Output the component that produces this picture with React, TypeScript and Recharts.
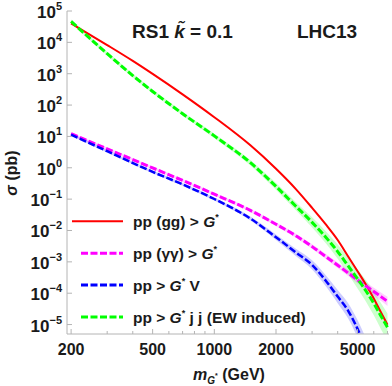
import React from "react";
import { ComposedChart, Line, Area, XAxis, YAxis, Customized } from "recharts";

// masses in GeV, cross sections in pb
const masses = [200, 300, 400, 500, 700, 1000, 1500, 2000, 2500, 3000, 3500, 4000, 4500, 5000, 5500, 6000, 6500, 7000];
const sigmaGG = [4.03e4, 8.2e3, 2.56e3, 986, 220, 41, 5.19, 0.927, 0.209, 0.0527, 0.0156, 4.97e-3, 1.48e-3, 5.0e-4, 1.87e-4, 6.8e-5, 2.48e-5, 9.9e-6];
const sigmaAA = [12.2, 4.0, 1.83, 0.99, 0.395, 0.144, 0.0436, 0.0158, 6.8e-3, 3.06e-3, 1.47e-3, 7.8e-4, 4.4e-4, 2.65e-4, 1.68e-4, 1.13e-4, 7.8e-5, 5.5e-5];
const sigmaV = [11.4, 3.37, 1.42, 0.74, 0.295, 0.101, 0.024, 6.1e-3, 2.0e-3, 8.0e-4, 2.5e-4, 7.8e-5, 2.75e-5, 7.3e-6, 1.7e-6, 4e-7, 8e-8, 1.6e-8];
const sigmaJJ = [4.67e4, 4.34e3, 871, 272, 53, 10.4, 1.45, 0.255, 0.0593, 0.0182, 6.1e-3, 2.12e-3, 7.4e-4, 2.85e-4, 1.18e-4, 4.73e-5, 1.89e-5, 8.1e-6];

// uncertainty band spread (multiplicative, up and down)
const spreadAA = [1.1, 1.1, 1.1, 1.1, 1.1, 1.1, 1.12, 1.14, 1.16, 1.18, 1.2, 1.22, 1.25, 1.28, 1.3, 1.33, 1.36, 1.4];
const spreadV = [1.1, 1.1, 1.1, 1.1, 1.1, 1.12, 1.16, 1.22, 1.3, 1.4, 1.5, 1.62, 1.75, 1.9, 2.1, 2.3, 2.5, 2.7];
const spreadJJ = [1.15, 1.15, 1.15, 1.15, 1.15, 1.18, 1.22, 1.28, 1.35, 1.45, 1.55, 1.7, 1.85, 2.0, 2.2, 2.4, 2.6, 2.8];

const xMajor = [200, 500, 1000, 2000, 5000];
const xMinor = [300, 400, 600, 700, 800, 900, 3000, 4000, 6000, 7000];
const yTicks = [1e-5, 1e-4, 1e-3, 1e-2, 1e-1, 1, 10, 100, 1e3, 1e4, 1e5];

const AXIS = "#b4b4b4";
const INK = "#1a1a1a";
const FONT = "'Liberation Sans', Arial, sans-serif";

const data = masses.map((m, i) => ({
  m,
  gg: sigmaGG[i],
  aa: sigmaAA[i],
  v: sigmaV[i],
  jj: sigmaJJ[i],
  aaBand: [sigmaAA[i] / spreadAA[i], sigmaAA[i] * spreadAA[i]],
  vBand: [sigmaV[i] / spreadV[i], sigmaV[i] * spreadV[i]],
  jjBand: [sigmaJJ[i] / spreadJJ[i], sigmaJJ[i] * spreadJJ[i]],
}));

const xTicks = [...xMajor, ...xMinor].sort((a, b) => a - b);

const XTick = (props: any) => {
  const { x, y, payload } = props;
  const major = xMajor.includes(payload.value);
  return (
    <g>
      <line x1={x} x2={x} y1={y} y2={y - (major ? 5 : 3)} stroke={AXIS} />
      {major && (
        <text x={x} y={y + 21} textAnchor="middle" fontSize={16} fontWeight="bold" fontFamily={FONT} fill={INK}>
          {payload.value}
        </text>
      )}
    </g>
  );
};

const YTick = (props: any) => {
  const { x, y, payload } = props;
  const exp = Math.round(Math.log10(payload.value));
  return (
    <g>
      <line x1={x} x2={x + 5} y1={y} y2={y} stroke={AXIS} />
      <text x={x - 5} y={y + 7} textAnchor="end" fontSize={17} fontWeight="bold" fontFamily={FONT} fill={INK}>
        10
        <tspan dy={-8} fontSize={11}>{exp < 0 ? "\u2212" + Math.abs(exp) : String(exp)}</tspan>
      </text>
    </g>
  );
};

const legendRows = [
  { color: "#ff0000", dash: undefined, w: 2, label: ["pp (gg) > ", "G", "*", ""] },
  { color: "#ff00ff", dash: "7 2.5", w: 3, label: ["pp (\u03b3\u03b3) > ", "G", "*", ""] },
  { color: "#0000ff", dash: "7 2.5", w: 3, label: ["pp > ", "G", "*", " V"] },
  { color: "#00ff00", dash: "7 2.5", w: 3, label: ["pp > ", "G", "*", " j j (EW induced)"] },
];

const Overlay = () => (
  <g fontFamily={FONT} fill={INK} fontWeight="bold">
    <text x={132} y={38} fontSize={19}>
      RS1 <tspan fontStyle="italic">k{"\u0303"}</tspan> = 0.1
    </text>
    <text x={297} y={38} fontSize={19}>LHC13</text>
    {legendRows.map((r, i) => {
      const y = 221.3 + i * 31.9;
      return (
        <g key={i}>
          <line x1={r.dash ? 81 : 72} x2={123} y1={y} y2={y} stroke={r.color} strokeWidth={r.w} strokeDasharray={r.dash} />
          <text x={133} y={y + 5.5} fontSize={15.5}>
            {r.label[0]}
            <tspan fontStyle="italic">{r.label[1]}</tspan>
            <tspan fontSize={9} dy={-7}>{r.label[2]}</tspan>
            <tspan dy={7}>{r.label[3] || "\u00a0"}</tspan>
          </text>
        </g>
      );
    })}
    <text transform="translate(17,173) rotate(-90)" textAnchor="middle" fontSize={16}>
      <tspan fontStyle="italic">{"\u03c3"}</tspan> (pb)
    </text>
    <text x={229} y={380} textAnchor="middle" fontSize={16}>
      <tspan fontStyle="italic">m</tspan>
      <tspan fontStyle="italic" fontSize={10} dy={4}>G</tspan>
      <tspan fontSize={7} dy={-6}>*</tspan>
      <tspan dy={2}> (GeV)</tspan>
    </text>
  </g>
);

export default function App() {
  return (
    <div style={{ position: "absolute", left: 0, top: 0, background: "#fff" }}>
      <ComposedChart width={392} height={386} data={data} margin={{ top: 11, right: 3, bottom: 0, left: 0 }}>
        <XAxis
          dataKey="m"
          type="number"
          scale="log"
          domain={[191, 7120]}
          allowDataOverflow
          ticks={xTicks}
          interval={0}
          tick={<XTick />}
          tickLine={false}
          tickSize={0}
          tickMargin={0}
          height={52}
          stroke={AXIS}
        />
        <XAxis xAxisId="top" orientation="top" dataKey="m" type="number" scale="log" domain={[191, 7120]} allowDataOverflow tick={false} tickLine={false} height={0} stroke={AXIS} />
        <YAxis
          type="number"
          scale="log"
          domain={[5e-6, 1e5]}
          allowDataOverflow
          ticks={yTicks}
          interval={0}
          tick={<YTick />}
          tickLine={false}
          tickSize={0}
          tickMargin={0}
          width={67}
          stroke={AXIS}
        />
        <YAxis yAxisId="right" orientation="right" type="number" scale="log" domain={[5e-6, 1e5]} allowDataOverflow tick={false} tickLine={false} width={0} stroke={AXIS} />

        <Area dataKey="jjBand" type="monotone" stroke="none" fill="#00ff00" fillOpacity={0.2} isAnimationActive={false} />
        <Area dataKey="vBand" type="monotone" stroke="none" fill="#0000ff" fillOpacity={0.2} isAnimationActive={false} />
        <Area dataKey="aaBand" type="monotone" stroke="none" fill="#ff00ff" fillOpacity={0.2} isAnimationActive={false} />

        <Line dataKey="gg" type="monotone" stroke="#ff0000" strokeWidth={2} dot={false} isAnimationActive={false} />
        <Line dataKey="aa" type="monotone" stroke="#ff00ff" strokeWidth={3} strokeDasharray="7 2.5" dot={false} isAnimationActive={false} />
        <Line dataKey="v" type="monotone" stroke="#0000ff" strokeWidth={2.5} strokeDasharray="7 2.5" dot={false} isAnimationActive={false} />
        <Line dataKey="jj" type="monotone" stroke="#00ff00" strokeWidth={3} strokeDasharray="7 2.5" dot={false} isAnimationActive={false} />

        <Customized component={<Overlay />} />
      </ComposedChart>
    </div>
  );
}
